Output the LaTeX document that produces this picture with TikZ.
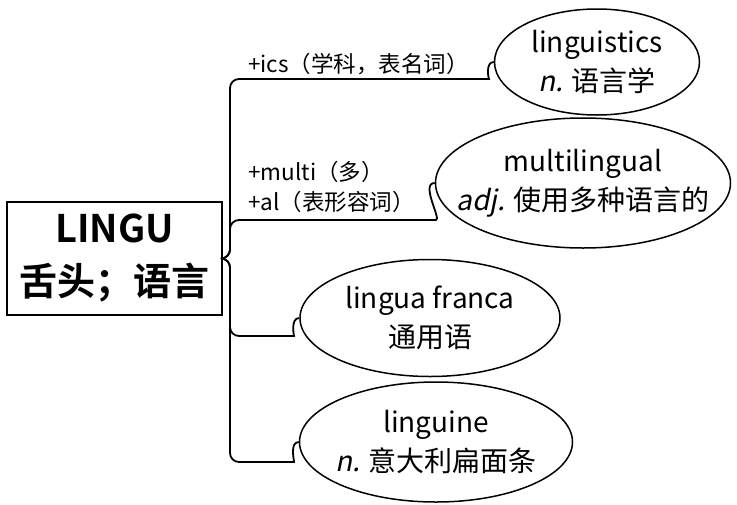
\documentclass[tikz,border=0pt]{standalone}
\usepackage{fontspec}
\setmainfont{Noto Sans CJK SC}[AutoFakeSlant=0.2, BoldFont={Noto Sans CJK SC Bold}]
\usetikzlibrary{shapes.geometric, positioning}
\tikzset{
  rootbox/.style={draw, line width=2.2pt, minimum width=215pt, minimum height=113pt, inner sep=0pt,
    align=center, font=\fontsize{38}{53}\selectfont\bfseries},
  wordoval/.style={ellipse, draw, line width=1.5pt, inner xsep=-40pt, inner ysep=-10pt,
    align=center, font=\fontsize{28}{39}\selectfont},
  affix/.style={anchor=base west, inner sep=0pt, align=left, font=\fontsize{22.5}{30}\selectfont},
  branch/.style={line width=1.8pt},
}

\begin{document}
\begin{tikzpicture}[x=1pt, y=-1pt]
  \useasboundingbox (0,0) rectangle (737,504);
  % root and the four words
  \node[rootbox] (root) at (114.5,258.5) {LINGU\\舌头；语言};
  \node[wordoval, minimum width=205pt, minimum height=106pt] (ling) at (597,62)
    {linguistics\\\textit{n.} 语言学};
  \node[wordoval, minimum width=295pt, minimum height=130pt] (multi) at (583,183)
    {multilingual\\\textit{adj.} 使用多种语言的};
  \node[wordoval, minimum width=260pt, minimum height=117pt] (franca) at (430,318)
    {lingua franca\\通用语};
  \node[wordoval, minimum width=273pt, minimum height=120pt] (linguine) at (436,442)
    {linguine\\\textit{n.} 意大利扁面条};
  % affix labels
  \node[affix] (icslabel) at (248,72) {+ics（学科，表名词）};
  \node[affix] (multilabel) at (248,210) {+multi（多）\\+al（表形容词）};
  % branches
  \draw[branch] (root.east) [rounded corners=9pt] -- (230,258.5) -- (230,79) -- (480,79)
    [sharp corners] to[out=0, in=180] (ling.west);
  \draw[branch] (root.east) [rounded corners=9pt] -- (230,258.5) -- (230,220) -- (427,220)
    [sharp corners] to[out=0, in=180] (multi.west);
  \draw[branch] (root.east) [rounded corners=9pt] -- (230,258.5) -- (230,336) -- (285,336)
    [sharp corners] to[out=0, in=180] (franca.west);
  \draw[branch] (root.east) [rounded corners=9pt] -- (230,258.5) -- (230,462) -- (285,462)
    [sharp corners] to[out=0, in=180] (linguine.west);
\end{tikzpicture}
\end{document}
